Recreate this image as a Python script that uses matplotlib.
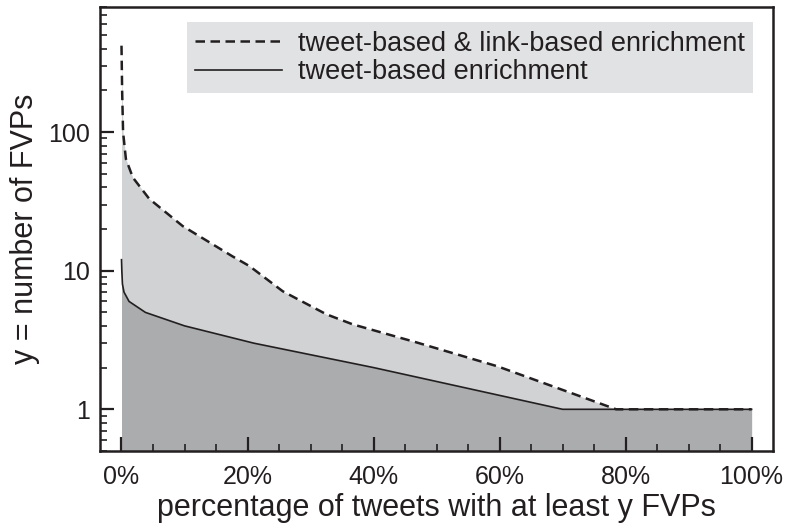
import numpy as np
import matplotlib
matplotlib.use("Agg")
import matplotlib.pyplot as plt
from matplotlib.ticker import FixedLocator, FuncFormatter, LogLocator, NullFormatter

plt.rcParams['font.family'] = ['Liberation Sans', 'DejaVu Sans']

# percentage of tweets (x) vs. number of FVPs (y)
pct_link = [0, 0.1, 0.25, 0.7, 1.8, 4.4, 9.7, 17.6, 20.3, 25.6, 32.5, 36.7, 46.8, 59.7, 78.5, 100]
fvp_link = [420, 200, 100, 64, 47, 33, 21, 12.7, 10.8, 7.1, 4.85, 4.1, 3.04, 2.04, 1, 1]

pct_tweet = [0, 0.05, 0.15, 0.4, 1.2, 3.8, 10, 21, 40, 70, 100]
fvp_tweet = [12, 10, 8, 7, 6, 5, 4, 3, 2, 1, 1]

x_ticks = [0, 20, 40, 60, 80, 100]
y_ticks = [1, 10, 100]

label_link = "tweet-based & link-based enrichment"
label_tweet = "tweet-based enrichment"

ink = "#231f20"

fig = plt.figure(figsize=(7.88, 5.30), dpi=100)
ax = fig.add_axes([0.127, 0.149, 0.854, 0.838])

ymin, ymax = 0.5, 800
ax.fill_between(pct_link, fvp_link, ymin, color="#d1d2d4", lw=0)
ax.fill_between(pct_tweet, fvp_tweet, ymin, color="#abacae", lw=0)
ax.plot(pct_link, fvp_link, color=ink, lw=1.8, ls=(0, (3.8, 2.2)), label=label_link)
ax.plot(pct_tweet, fvp_tweet, color=ink, lw=1.2, label=label_tweet)

ax.set_yscale("log")
ax.set_ylim(ymin, ymax)
ax.set_xlim(-3.4, 103.4)

ax.xaxis.set_major_locator(FixedLocator(x_ticks))
ax.xaxis.set_minor_locator(FixedLocator(np.arange(0, 101, 5)))
ax.xaxis.set_major_formatter(FuncFormatter(lambda v, p: f"{v:.0f}%"))
ax.yaxis.set_major_locator(FixedLocator(y_ticks))
ax.yaxis.set_minor_locator(LogLocator(base=10, subs=np.arange(2, 10)))
ax.yaxis.set_major_formatter(FuncFormatter(lambda v, p: f"{v:g}"))
ax.yaxis.set_minor_formatter(NullFormatter())

ax.tick_params(which="both", direction="in", color=ink, labelcolor=ink,
               labelsize=18, top=False, right=False)
ax.tick_params(which="major", length=10, width=1.6)
ax.tick_params(which="minor", length=5, width=1.2)
ax.tick_params(axis="x", which="major", pad=10)
ax.tick_params(axis="y", which="major", pad=7)

for sp in ax.spines.values():
    sp.set_color(ink)
    sp.set_linewidth(1.8)

ax.set_xlabel("percentage of tweets with at least y FVPs", fontsize=22, color=ink, labelpad=3)
ax.set_ylabel("y = number of FVPs", fontsize=22, color=ink, labelpad=6)

leg = ax.legend(loc="upper right", bbox_to_anchor=(0.97, 0.965), fontsize=19.5,
                frameon=True, fancybox=False, handlelength=3.2, handletextpad=0.6,
                borderpad=0.3, labelspacing=0.1, borderaxespad=0)
leg.get_frame().set_facecolor("#e1e2e4")
leg.get_frame().set_edgecolor("none")
leg.get_frame().set_alpha(1)
for t in leg.get_texts():
    t.set_color(ink)

fig.savefig("out.png", dpi=100)
